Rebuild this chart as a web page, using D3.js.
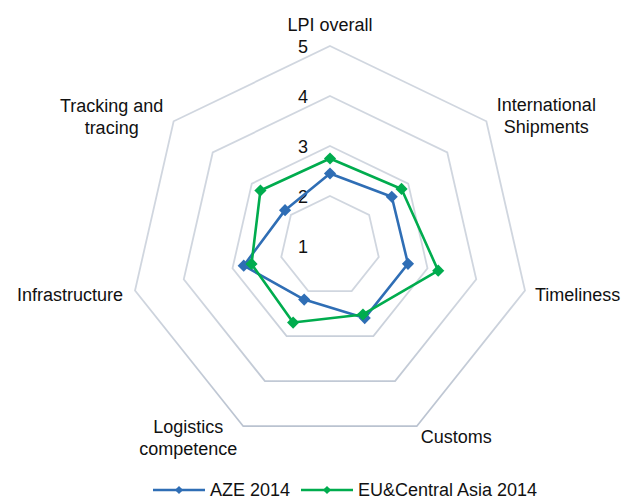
<!DOCTYPE html>
<html>
<head>
<meta charset="utf-8">
<script src="https://cdn.jsdelivr.net/npm/d3@7"></script>
<style>
  html, body { margin: 0; padding: 0; background: #fff; }
  svg text { font-family: "Liberation Sans", Arial, Helvetica, sans-serif; fill: #111; }
</style>
</head>
<body>
<svg id="chart" width="638" height="500"></svg>
<script>
// Logistics Performance Index dimensions (LPI 2014)
const categories = [
  "LPI overall",
  "International\nShipments",
  "Timeliness",
  "Customs",
  "Logistics\ncompetence",
  "Infrastructure",
  "Tracking and\ntracing"
];
const seriesNames = ["AZE 2014", "EU&Central Asia 2014"];
const azeValues = [2.45, 2.58, 2.60, 2.60, 2.19, 2.77, 2.15];
const ecaValues = [2.75, 2.83, 3.22, 2.52, 2.70, 2.61, 2.78];
const tickValues = [1, 2, 3, 4, 5];

const seriesColors = ["#2F6EB5", "#00AC4E"];

const svg = d3.select("#chart");
const cx = 330, cy = 246, outerR = 200;

const r = d3.scaleLinear().domain([1, 5]).range([0, outerR]);
const angle = d3.scaleLinear().domain([0, categories.length]).range([0, 2 * Math.PI]);

// Grid ring stroke fades from light grey at the top to slate at the bottom
const defs = svg.append("defs");
const grad = defs.append("linearGradient")
  .attr("id", "ringGrad")
  .attr("gradientUnits", "userSpaceOnUse")
  .attr("x1", 0).attr("y1", cy - outerR)
  .attr("x2", 0).attr("y2", cy + outerR * 0.9);
grad.append("stop").attr("offset", "0%").attr("stop-color", "#d0d6df");
grad.append("stop").attr("offset", "40%").attr("stop-color", "#b7c0ce");
grad.append("stop").attr("offset", "100%").attr("stop-color", "#7589a4");

const g = svg.append("g").attr("transform", `translate(${cx},${cy})`);

const idx = d3.range(categories.length);
const radial = d3.lineRadial()
  .angle(d => angle(d[0]))
  .radius(d => r(d[1]))
  .curve(d3.curveLinearClosed);

// Heptagon grid rings (value 2..5; value 1 is the centre)
g.append("g").selectAll("path")
  .data(tickValues.filter(v => v > 1))
  .join("path")
  .attr("d", v => radial(idx.map(i => [i, v])))
  .attr("fill", "none")
  .attr("stroke", "url(#ringGrad)")
  .attr("stroke-width", 1.8);

// Axis tick labels along the top spoke
g.append("g").selectAll("text")
  .data(tickValues)
  .join("text")
  .attr("x", -22)
  .attr("y", v => -r(v) + 1)
  .attr("text-anchor", "end")
  .attr("dominant-baseline", "central")
  .style("font-size", "18px")
  .text(v => v);

// Category labels around the outer ring
const labelLayout = [
  { anchor: "middle", dx: 0, dy: -21 },
  { anchor: "middle", dx: 60, dy: -5 },
  { anchor: "start", dx: 10, dy: 4.5 },
  { anchor: "start", dx: 4, dy: 11 },
  { anchor: "middle", dx: -55, dy: 12 },
  { anchor: "end", dx: -12, dy: 4.5 },
  { anchor: "middle", dx: -62, dy: -4 }
];
const lineH = 22;
categories.forEach((c, i) => {
  const a = angle(i);
  const vx = Math.sin(a) * outerR, vy = -Math.cos(a) * outerR;
  const lines = c.split("\n");
  const L = labelLayout[i];
  const t = g.append("text")
    .attr("text-anchor", L.anchor)
    .style("font-size", "18px");
  lines.forEach((ln, k) => {
    t.append("tspan")
      .attr("x", vx + L.dx)
      .attr("y", vy + L.dy + (k - (lines.length - 1) / 2) * lineH)
      .attr("dominant-baseline", "central")
      .text(ln);
  });
});

// Data series: closed polylines with square diamond markers
const series = [azeValues, ecaValues];
const square = d3.symbol().type(d3.symbolSquare);

series.forEach((vals, s) => {
  const pts = vals.map((v, i) => [i, v]);
  g.append("path")
    .attr("d", radial(pts))
    .attr("fill", "none")
    .attr("stroke", seriesColors[s])
    .attr("stroke-width", 2.6)
    .attr("stroke-linejoin", "round");
  g.append("g").selectAll("path")
    .data(pts)
    .join("path")
    .attr("transform", d => `translate(${Math.sin(angle(d[0])) * r(d[1])},${-Math.cos(angle(d[0])) * r(d[1])}) rotate(45)`)
    .attr("d", square.size(74)())
    .attr("fill", seriesColors[s]);
});

// Legend
const legend = svg.append("g").attr("transform", "translate(0,490)");
const legendItems = [
  { x: 153, name: seriesNames[0], color: seriesColors[0] },
  { x: 301, name: seriesNames[1], color: seriesColors[1] }
];
legendItems.forEach(it => {
  const lg = legend.append("g").attr("transform", `translate(${it.x},0)`);
  lg.append("line").attr("x1", 0).attr("x2", 52).attr("y1", 0).attr("y2", 0)
    .attr("stroke", it.color).attr("stroke-width", 2.6);
  lg.append("path").attr("transform", "translate(26,0) rotate(45)")
    .attr("d", square.size(34)()).attr("fill", it.color);
  lg.append("text").attr("x", 57).attr("y", 0)
    .attr("dominant-baseline", "central")
    .style("font-size", "18px")
    .text(it.name);
});
</script>
</body>
</html>
